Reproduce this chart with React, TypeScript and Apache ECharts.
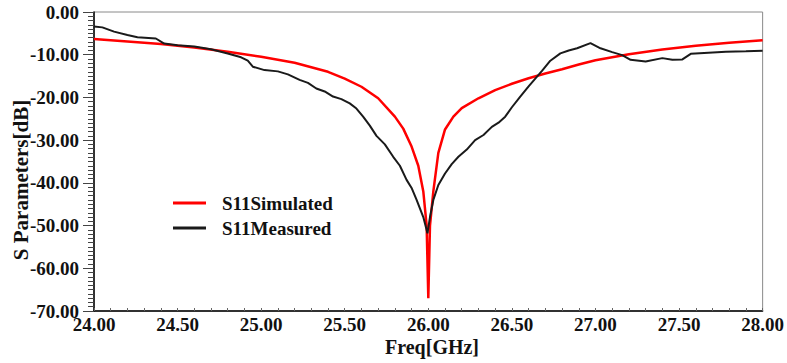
import React, { useEffect, useRef } from "react";
import * as echarts from "echarts";

const simFreq = [24.0, 24.2, 24.4, 24.6, 24.8, 25.0, 25.2, 25.4, 25.5, 25.6, 25.7, 25.8, 25.85, 25.9, 25.94, 25.97, 25.99, 26.0, 26.01, 26.03, 26.06, 26.1, 26.15, 26.2, 26.3, 26.4, 26.5, 26.6, 26.7, 26.8, 26.9, 27.0, 27.2, 27.4, 27.6, 27.8, 28.0];
const simDb = [-6.3, -6.9, -7.5, -8.3, -9.3, -10.5, -11.9, -14.0, -15.6, -17.5, -20.2, -24.5, -27.3, -31.5, -36.0, -42.0, -50.0, -67.0, -50.0, -42.0, -33.0, -27.5, -24.5, -22.5, -20.2, -18.3, -16.8, -15.5, -14.4, -13.4, -12.3, -11.3, -9.9, -8.8, -7.9, -7.2, -6.6];

const measFreq = [24.0, 24.05, 24.12, 24.2, 24.26, 24.37, 24.42, 24.5, 24.6, 24.7, 24.8, 24.88, 24.92, 24.95, 25.02, 25.1, 25.16, 25.23, 25.28, 25.33, 25.38, 25.43, 25.48, 25.53, 25.57, 25.61, 25.65, 25.69, 25.74, 25.79, 25.83, 25.87, 25.9, 25.93, 25.97, 25.995, 26.01, 26.03, 26.06, 26.1, 26.14, 26.18, 26.23, 26.28, 26.33, 26.38, 26.42, 26.46, 26.5, 26.55, 26.6, 26.64, 26.68, 26.73, 26.79, 26.84, 26.89, 26.97, 27.03, 27.1, 27.16, 27.21, 27.3, 27.4, 27.46, 27.52, 27.57, 27.65, 27.78, 27.9, 28.0];
const measDb = [-3.4, -3.6, -4.6, -5.4, -5.9, -6.2, -7.4, -7.8, -8.1, -8.7, -9.7, -10.6, -11.4, -12.8, -13.6, -13.9, -14.6, -15.9, -16.6, -17.9, -18.6, -19.8, -20.4, -21.4, -22.6, -24.5, -26.6, -29.0, -31.0, -33.9, -36.0, -39.3, -41.2, -44.0, -48.0, -51.8, -48.0, -44.0, -40.5, -37.8, -35.6, -33.9, -32.2, -30.0, -28.8, -26.9, -25.9, -24.5, -22.3, -19.8, -17.4, -15.6, -13.8, -11.4, -9.7, -9.0, -8.5, -7.3, -8.5, -9.4, -10.1, -11.2, -11.6, -10.8, -11.2, -11.1, -9.8, -9.6, -9.3, -9.2, -9.1];

const xTicks = { min: 24, max: 28, interval: 0.5 };
const yTicks = { min: -70, max: 0, interval: 10 };

const seriesNames = ["S11Simulated", "S11Measured"];

const FONT = "'Liberation Serif', 'Times New Roman', serif";
const TXT = "#111111";

export default function App() {
  const ref = useRef<HTMLDivElement>(null);
  useEffect(() => {
    if (!ref.current) return;
    const chart = echarts.init(ref.current, undefined, { renderer: "svg" });
    const sim = simFreq.map((f, i) => [f, simDb[i]]);
    const meas = measFreq.map((f, i) => [f, measDb[i]]);
    chart.setOption({
      animation: false,
      backgroundColor: "#ffffff",
      grid: {
        left: 94,
        right: 24,
        top: 12,
        bottom: 52,
        show: true,
        borderColor: "#8a8a8a",
        borderWidth: 1,
        backgroundColor: "transparent",
      },
      legend: {
        data: seriesNames,
        orient: "vertical",
        left: 173,
        top: 193,
        padding: 0,
        itemWidth: 33,
        itemHeight: 3,
        itemGap: 5,
        icon: "rect",
        textStyle: {
          fontFamily: FONT,
          fontWeight: "bold",
          fontSize: 19,
          color: TXT,
          padding: [0, 0, 0, 11],
          lineHeight: 20,
        },
      },
      xAxis: {
        type: "value",
        min: xTicks.min,
        max: xTicks.max,
        interval: xTicks.interval,
        axisLine: { show: true, onZero: false, lineStyle: { color: "#000", width: 1.5 } },
        axisTick: { show: true, inside: true, length: 3, lineStyle: { color: "#666" } },
        minorTick: { show: true, splitNumber: 5, length: 3, lineStyle: { color: "#666" } },
        splitLine: { show: false },
        axisLabel: {
          margin: 4,
          fontFamily: FONT,
          fontWeight: "bold",
          fontSize: 19,
          color: TXT,
          formatter: (v: number) => v.toFixed(2),
        },
      },
      yAxis: {
        type: "value",
        min: yTicks.min,
        max: yTicks.max,
        interval: yTicks.interval,
        axisLine: { show: true, onZero: false, lineStyle: { color: "#000", width: 1.5 } },
        axisTick: { show: true, inside: false, length: 11, lineStyle: { color: "#444" } },
        minorTick: { show: true, splitNumber: 10, length: 6, lineStyle: { color: "#444" } },
        splitLine: { show: false },
        axisLabel: {
          margin: 15,
          fontFamily: FONT,
          fontWeight: "bold",
          fontSize: 19,
          color: TXT,
          formatter: (v: number) => v.toFixed(2),
        },
      },
      graphic: [
        {
          type: "text",
          x: 21,
          y: 180,
          rotation: Math.PI / 2,
          style: {
            text: "S Parameters[dB]",
            fontFamily: FONT,
            fontWeight: "bold",
            fontSize: 21,
            fill: TXT,
            textAlign: "center",
            textVerticalAlign: "middle",
          },
        },
        {
          type: "text",
          x: 432,
          y: 347,
          style: {
            text: "Freq[GHz]",
            fontFamily: FONT,
            fontWeight: "bold",
            fontSize: 20,
            fill: TXT,
            textAlign: "center",
            textVerticalAlign: "middle",
          },
        },
      ],
      series: [
        {
          name: seriesNames[0],
          type: "line",
          data: sim,
          showSymbol: false,
          symbol: "none",
          lineStyle: { color: "#ff0000", width: 2.5 },
          itemStyle: { color: "#ff0000" },
          z: 2,
        },
        {
          name: seriesNames[1],
          type: "line",
          data: meas,
          showSymbol: false,
          symbol: "none",
          lineStyle: { color: "#1a1a1a", width: 2 },
          itemStyle: { color: "#1a1a1a" },
          z: 3,
        },
      ],
    });
    return () => chart.dispose();
  }, []);
  return (
    <div
      ref={ref}
      style={{ position: "fixed", left: 0, top: 0, width: 787, height: 363 }}
    />
  );
}
